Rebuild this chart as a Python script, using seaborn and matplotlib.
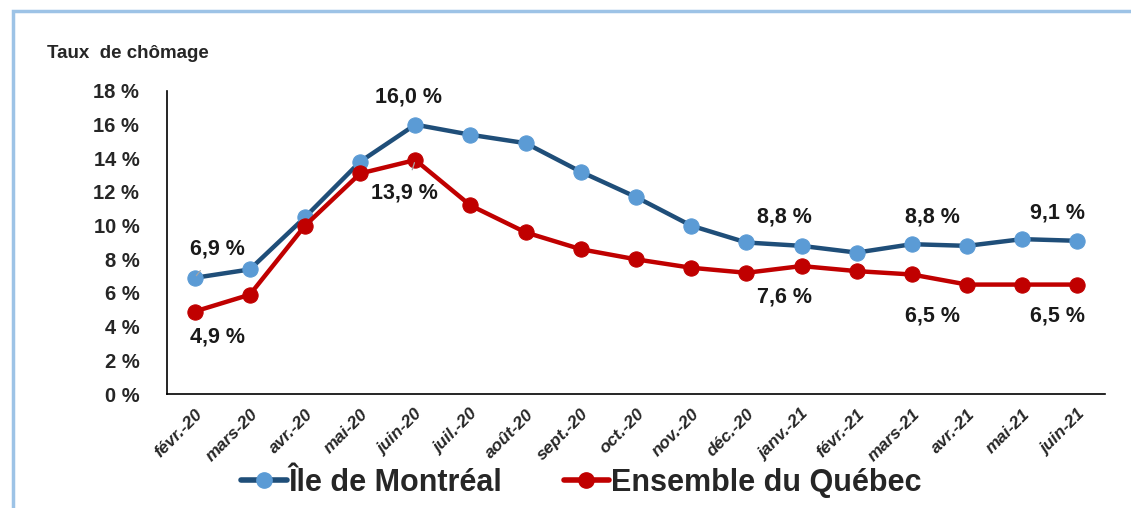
import pandas as pd
import matplotlib.pyplot as plt
import seaborn as sns
from matplotlib.patches import Rectangle
from matplotlib.ticker import FixedLocator

mois = ['févr.-20', 'mars-20', 'avr.-20', 'mai-20', 'juin-20', 'juil.-20', 'août-20',
        'sept.-20', 'oct.-20', 'nov.-20', 'déc.-20', 'janv.-21', 'févr.-21', 'mars-21',
        'avr.-21', 'mai-21', 'juin-21']
montreal = [6.9, 7.4, 10.5, 13.8, 16.0, 15.4, 14.9, 13.2, 11.7, 10.0, 9.0, 8.8, 8.4, 8.9, 8.8, 9.2, 9.1]
quebec = [4.9, 5.9, 10.0, 13.1, 13.9, 11.2, 9.6, 8.6, 8.0, 7.5, 7.2, 7.6, 7.3, 7.1, 6.5, 6.5, 6.5]

serie_mtl = 'Île de Montréal'
serie_qc = 'Ensemble du Québec'

# points with a value label -> where the text goes (data coords)
labels_mtl = {0: (0.41, 8.6), 4: (3.87, 17.65), 11: (10.69, 10.5), 14: (13.38, 10.5), 16: (15.64, 10.75)}
labels_qc = {0: (0.42, 3.4), 4: (3.81, 11.95), 11: (10.69, 5.76), 14: (13.38, 4.63), 16: (15.64, 4.63)}

df = pd.DataFrame({'x': list(range(len(mois))) * 2,
                   'taux': montreal + quebec,
                   'serie': [serie_mtl] * len(mois) + [serie_qc] * len(mois)})

sns.set_style('white')
plt.rcParams['font.family'] = ['Liberation Sans', 'DejaVu Sans']

fig = plt.figure(figsize=(11.31, 5.08), dpi=100)
ax = fig.add_axes([0.1477, 0.2244, 0.8293, 0.5965])

sns.lineplot(data=df, x='x', y='taux', hue='serie',
             palette={serie_mtl: '#1F4E79', serie_qc: '#C00000'},
             marker='o', markersize=11, linewidth=3.2, ax=ax, legend=False)

faces = {0: '#5B9BD5', 1: '#C00000'}
for i, ln in enumerate(ax.lines[:2]):
    ln.set_markerfacecolor(faces[i])
    ln.set_markeredgecolor(faces[i])

def fmt(v):
    return f'{v:.1f} %'.replace('.', ',')

for vals, labs in [(montreal, labels_mtl), (quebec, labels_qc)]:
    for i, (tx, ty) in labs.items():
        lead = (i == 0 and vals is montreal) or (i == 4 and vals is quebec)
        ax.annotate(fmt(vals[i]), xy=(i, vals[i]), xytext=(tx, ty),
                    ha='center', va='center', fontsize=15.5, fontweight='bold', color='#1a1a1a',
                    arrowprops=dict(arrowstyle='-', color='#A6A6A6', lw=0.9,
                                    shrinkA=7, shrinkB=2) if lead else None)

ax.set_xlim(-0.5, len(mois) - 0.5)
ax.set_ylim(0, 18)
ax.set_yticks(range(0, 19, 2))
ax.set_yticklabels([f'{t} %' for t in range(0, 19, 2)], fontsize=14.5, fontweight='bold')
ax.tick_params(axis='y', direction='in', length=5, width=1.2, color='black', pad=20)

ax.set_xticks(range(len(mois)))
ax.set_xticklabels(mois, rotation=45, ha='right', rotation_mode='anchor',
                   fontsize=12.5, fontweight='bold', style='italic')
ax.tick_params(axis='x', which='major', length=0, pad=9)
ax.xaxis.set_minor_locator(FixedLocator([k - 0.5 for k in range(len(mois) + 1)]))
ax.tick_params(axis='x', which='minor', direction='out', length=5, width=1.2, color='black')

for s in ['top', 'right']:
    ax.spines[s].set_visible(False)
for s in ['left', 'bottom']:
    ax.spines[s].set_color('black')
    ax.spines[s].set_linewidth(1.2)
ax.set_xlabel('')
ax.set_ylabel('')

fig.text(47 / 1131, 1 - 53 / 508, 'Taux  de chômage', fontsize=13.5, fontweight='bold', va='center')

h1, = ax.plot([], [], color='#1F4E79', lw=4, marker='o', markersize=11,
              markerfacecolor='#5B9BD5', markeredgecolor='#5B9BD5')
h2, = ax.plot([], [], color='#C00000', lw=4, marker='o', markersize=11,
              markerfacecolor='#C00000', markeredgecolor='#C00000')
fig.legend([h1, h2], [serie_mtl, serie_qc], loc='center', bbox_to_anchor=(0.514, 0.05),
           ncol=2, frameon=False, handlelength=1.5, handletextpad=0.05, columnspacing=2.0,
           prop={'weight': 'bold', 'size': 22})

fig.patches.append(Rectangle((13 / 1131, -0.1), 1.1, 1 - 11 / 508 + 0.1, transform=fig.transFigure,
                             fill=False, edgecolor='#9DC3E6', linewidth=2.5))

fig.savefig('out.png', dpi=100)
